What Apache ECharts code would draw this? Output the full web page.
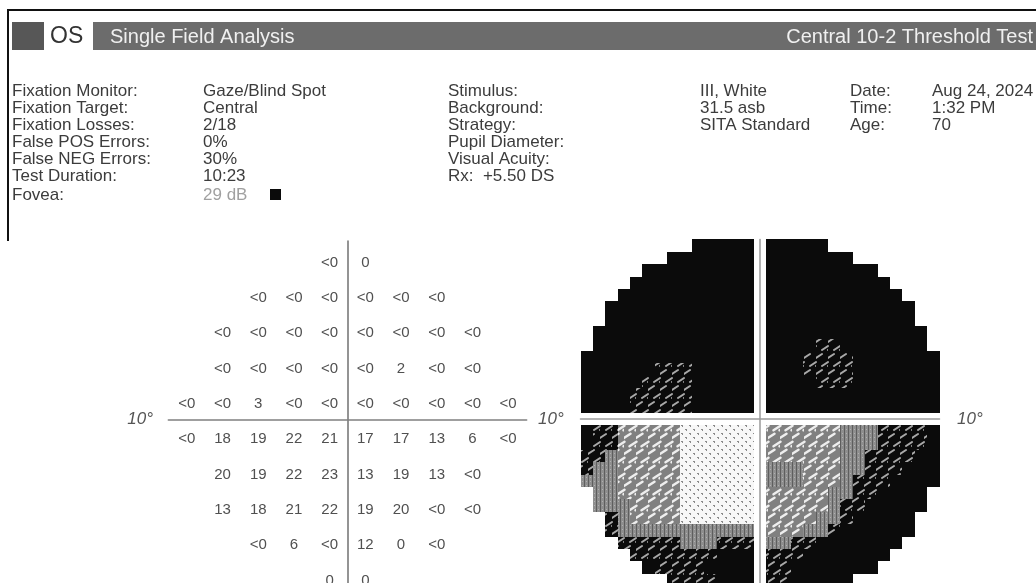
<!DOCTYPE html>
<html><head><meta charset="utf-8">
<script src="https://cdn.jsdelivr.net/npm/echarts@6/dist/echarts.min.js"></script>
<style>html,body{margin:0;padding:0;background:#fff}#c{width:1036px;height:583px}</style>
</head><body><div id="c"></div>
<script>
const FONT = '"Liberation Sans", Arial, sans-serif';

// ---- header / info texts ----
const eyeLabel = 'OS';
const titleLeft = 'Single Field Analysis';
const titleRight = 'Central 10-2 Threshold Test';
const infoLabels1 = ['Fixation Monitor:', 'Fixation Target:', 'Fixation Losses:', 'False POS Errors:', 'False NEG Errors:', 'Test Duration:'];
const infoValues1 = ['Gaze/Blind Spot', 'Central', '2/18', '0%', '30%', '10:23'];
const infoLabels2 = ['Stimulus:', 'Background:', 'Strategy:', 'Pupil Diameter:', 'Visual Acuity:', 'Rx:  +5.50 DS'];
const infoValues2 = ['III, White', '31.5 asb', 'SITA Standard', '', '', ''];
const infoLabels3 = ['Date:', 'Time:', 'Age:'];
const infoValues3 = ['Aug 24, 2024', '1:32 PM', '70'];
const foveaLabel = 'Fovea:';
const foveaValue = '29 dB';
const degreeLabel = '10\u00b0';

// ---- threshold values (dB), superior to inferior rows ----
const thresholdRows = [
  ['<0', '0'],
  ['<0', '<0', '<0', '<0', '<0', '<0'],
  ['<0', '<0', '<0', '<0', '<0', '<0', '<0', '<0'],
  ['<0', '<0', '<0', '<0', '<0', '2', '<0', '<0'],
  ['<0', '<0', '3', '<0', '<0', '<0', '<0', '<0', '<0', '<0'],
  ['<0', '18', '19', '22', '21', '17', '17', '13', '6', '<0'],
  ['20', '19', '22', '23', '13', '19', '13', '<0'],
  ['13', '18', '21', '22', '19', '20', '<0', '<0'],
  ['<0', '6', '<0', '12', '0', '<0'],
  ['0', '0']
];
const thresholdRowY = [9, 7, 5, 3, 1, -1, -3, -5, -7, -9];

// ---- grayscale map: 28 rows x 28 cols (14 left | 14 right), K=black D=dark G=gray M=mid-light L=light ----
const grayLevels = 'KDGML';
const grayRows = [
  '.........KKKKK' + 'KKKKK.........',
  '.......KKKKKKK' + 'KKKKKKK.......',
  '.....KKKKKKKKK' + 'KKKKKKKKK.....',
  '....KKKKKKKKKK' + 'KKKKKKKKKK....',
  '...KKKKKKKKKKK' + 'KKKKKKKKKKK...',
  '..KKKKKKKKKKKK' + 'KKKKKKKKKKKK..',
  '..KKKKKKKKKKKK' + 'KKKKKKKKKKKK..',
  '.KKKKKKKKKKKKK' + 'KKKKKKKKKKKKK.',
  '.KKKKKKKKKKKKK' + 'KKKKDDKKKKKKK.',
  'KKKKKKKKKKKKKK' + 'KKKDDDDKKKKKKK',
  'KKKKKKDDDKKKKK' + 'KKKDDDDKKKKKKK',
  'KKKKKDDDDKKKKK' + 'KKKKDDDKKKKKKK',
  'KKKKDDDDDKKKKK' + 'KKKKKKKKKKKKKK',
  'KKKKDDDDDKKKKK' + 'KKKKKKKKKKKKKK',
  'KDDMMMMMLLLLLL' + 'MMMMMMGGGDDDDK',
  'KDDMMMMMLLLLLL' + 'MMMMMMGGGDDDDK',
  'DDGMMMMMLLLLLL' + 'MMMMMMGGDDDDKK',
  'DGGMMMMMLLLLLL' + 'GGGMMMGGDDDKKK',
  'GGGMMMMMLLLLLL' + 'GGGMMMGDDDKKKK',
  '.GGMMMMMLLLLLL' + 'MMMMMGGDDKKKK.',
  '.GGGMMMMLLLLLL' + 'MMMMMGDDKKKKK.',
  '..DGMMMMLLLLLL' + 'MMMMGGDKKKKK..',
  '..DGGGGGGGGGGG' + 'MMMGGDKKKKKK..',
  '...DDDDDGGGDDD' + 'GGDDKKKKKKK...',
  '....DDDDDDDKKK' + 'DDDKKKKKKK....',
  '.....KDDDDKKKK' + 'DDKKKKKKK.....',
  '.......DDDDKKK' + 'DDKKKKK.......',
  '.........DDDKK' + 'DKKKK.........'
];

// ---- pattern tiles for grayscale symbols ----
function tile(w, h, draw) {
  const cv = document.createElement('canvas');
  cv.width = w; cv.height = h;
  const ctx = cv.getContext('2d');
  draw(ctx);
  return { image: cv, repeat: 'repeat' };
}
function dash(ctx, cx, cy, len, color, lw) {
  ctx.strokeStyle = color; ctx.lineWidth = lw; ctx.lineCap = 'round';
  ctx.beginPath();
  ctx.moveTo(cx - len / 2, cy + len / 3);
  ctx.lineTo(cx + len / 2, cy - len / 3);
  ctx.stroke();
}
const lattice = [[3, 4], [9, 12], [9, -4], [15, 12], [-3, 12], [3, 20], [15, -4], [-3, -4]];
const patterns = [
  '#0b0b0b',
  tile(12, 16, ctx => {
    ctx.fillStyle = '#0b0b0b'; ctx.fillRect(0, 0, 12, 16);
    lattice.forEach(p => dash(ctx, p[0], p[1], 6, '#a8a8a8', 2));
  }),
  tile(4, 4, ctx => {
    ctx.fillStyle = '#8e8e8e'; ctx.fillRect(0, 0, 4, 4);
    ctx.fillStyle = '#5e5e5e'; ctx.fillRect(0, 0, 1, 4);
    ctx.fillStyle = '#b0b0b0'; ctx.fillRect(2, 1, 1, 1);
  }),
  tile(12, 16, ctx => {
    ctx.fillStyle = '#808080'; ctx.fillRect(0, 0, 12, 16);
    lattice.forEach(p => dash(ctx, p[0], p[1], 7, '#eeeeee', 2.4));
  }),
  tile(8, 8, ctx => {
    ctx.fillStyle = '#f7f7f7'; ctx.fillRect(0, 0, 8, 8);
    ctx.fillStyle = '#8a8a8a';
    ctx.fillRect(1, 1, 2, 1); ctx.fillRect(2, 2, 1, 1);
    ctx.fillRect(5, 5, 2, 1); ctx.fillRect(6, 6, 1, 1);
  })
];

// ---- build data ----
const numData = [];
thresholdRows.forEach((row, i) => {
  const n = row.length;
  row.forEach((v, j) => numData.push([-(n - 1) + 2 * j, thresholdRowY[i], v]));
});
const mapData = [];
grayRows.forEach((row, r) => {
  for (let c = 0; c < row.length; c++) {
    const ch = row[c];
    if (ch === '.') continue;
    mapData.push([c < 14 ? c - 14 : c - 13, r < 14 ? 14 - r : 13 - r, grayLevels.indexOf(ch)]);
  }
});

// ---- graphics (header, info) ----
const TXT = '#3c3c3c';
function txt(x, y, text, opt) {
  opt = opt || {};
  return {
    type: 'text', x: x, y: y, silent: true,
    style: {
      text: text, fill: opt.fill || TXT, font: (opt.font || '17px') + ' ' + FONT,
      align: opt.align || 'left', textAlign: opt.align || 'left',
      verticalAlign: 'middle', textVerticalAlign: 'middle'
    }
  };
}
const rowY = [91, 108, 125, 142, 159, 176];
const graphics = [
  { type: 'rect', shape: { x: 8, y: 9, width: 1028, height: 2 }, style: { fill: '#111' } },
  { type: 'rect', shape: { x: 7, y: 9, width: 2, height: 232 }, style: { fill: '#111' } },
  { type: 'rect', shape: { x: 12, y: 22, width: 32, height: 28 }, style: { fill: '#575757' } },
  { type: 'rect', shape: { x: 93, y: 22, width: 943, height: 28 }, style: { fill: '#6c6c6c' } },
  txt(50, 37, eyeLabel, { font: '23px', fill: '#333' }),
  txt(110, 37, titleLeft, { font: '20px', fill: '#f0f0f0' }),
  txt(1033, 37, titleRight, { font: '20px', fill: '#f0f0f0', align: 'right' })
];
infoLabels1.forEach((t, i) => graphics.push(txt(12, rowY[i], t)));
infoValues1.forEach((t, i) => graphics.push(txt(203, rowY[i], t)));
infoLabels2.forEach((t, i) => graphics.push(txt(448, rowY[i], t)));
infoValues2.forEach((t, i) => { if (t) graphics.push(txt(700, rowY[i], t)); });
infoLabels3.forEach((t, i) => graphics.push(txt(850, rowY[i], t)));
infoValues3.forEach((t, i) => graphics.push(txt(932, rowY[i], t)));
graphics.push(txt(12, 195, foveaLabel));
graphics.push(txt(203, 195, foveaValue, { fill: '#a0a0a0' }));
graphics.push({ type: 'rect', shape: { x: 270, y: 189, width: 11, height: 11 }, style: { fill: '#0b0b0b' } });
graphics.push(txt(153, 419, degreeLabel, { font: 'italic 17px', fill: '#555', align: 'right' }));
graphics.push(txt(538, 419, degreeLabel, { font: 'italic 17px', fill: '#555' }));
graphics.push(txt(957, 419, degreeLabel, { font: 'italic 17px', fill: '#555' }));

const hiddenAxis = {
  splitLine: { show: false }, axisTick: { show: false }, axisLabel: { show: false }
};
// numeric plot: centre (347.5, 420), 17.85 px/deg across, 17.67 px/deg down ; map: centre (760, 419), 12.38 px/cell
const chart = echarts.init(document.getElementById('c'), null, { renderer: 'canvas' });
chart.setOption({
  animation: false,
  backgroundColor: '#fff',
  grid: [
    { left: 168.3, top: 241, width: 358.4, height: 342 },
    { left: 580.5, top: 239.5, width: 359, height: 343.5 }
  ],
  xAxis: [
    Object.assign({ type: 'value', gridIndex: 0, min: -10.04, max: 10.04,
      axisLine: { show: true, onZero: true, lineStyle: { color: '#808080', width: 1.5 } } }, hiddenAxis),
    Object.assign({ type: 'value', gridIndex: 1, min: -14.5, max: 14.5,
      axisLine: { show: true, onZero: true, lineStyle: { color: '#9a9a9a', width: 1.5 } } }, hiddenAxis)
  ],
  yAxis: [
    Object.assign({ type: 'value', gridIndex: 0, min: -9.22, max: 10.13,
      axisLine: { show: true, onZero: true, lineStyle: { color: '#707070', width: 1.5 } } }, hiddenAxis),
    Object.assign({ type: 'value', gridIndex: 1, min: -13.25, max: 14.5,
      axisLine: { show: true, onZero: true, lineStyle: { color: '#9a9a9a', width: 1.5 } } }, hiddenAxis)
  ],
  series: [
    {
      type: 'custom', xAxisIndex: 0, yAxisIndex: 0, data: numData, silent: true,
      dimensions: ['x', 'y', { name: 'v', type: 'ordinal' }],
      renderItem: function (params, api) {
        const d = numData[params.dataIndex];
        const p = api.coord([d[0], d[1]]);
        return {
          type: 'text', x: p[0], y: p[1] + 1.5,
          style: { text: d[2], fill: '#505050', font: '15px ' + FONT,
            align: 'center', textAlign: 'center', verticalAlign: 'middle', textVerticalAlign: 'middle' }
        };
      }
    },
    {
      type: 'custom', xAxisIndex: 1, yAxisIndex: 1, data: mapData, silent: true,
      renderItem: function (params, api) {
        const x = api.value(0), y = api.value(1), lv = api.value(2);
        const p0 = api.coord([x - 0.5, y + 0.5]);
        const p1 = api.coord([x + 0.5, y - 0.5]);
        const x0 = Math.round(p0[0]), y0 = Math.round(p0[1]);
        return {
          type: 'rect',
          shape: { x: x0, y: y0, width: Math.round(p1[0]) - x0, height: Math.round(p1[1]) - y0 },
          style: { fill: patterns[lv] }
        };
      }
    }
  ],
  graphic: graphics
});
</script></body></html>
